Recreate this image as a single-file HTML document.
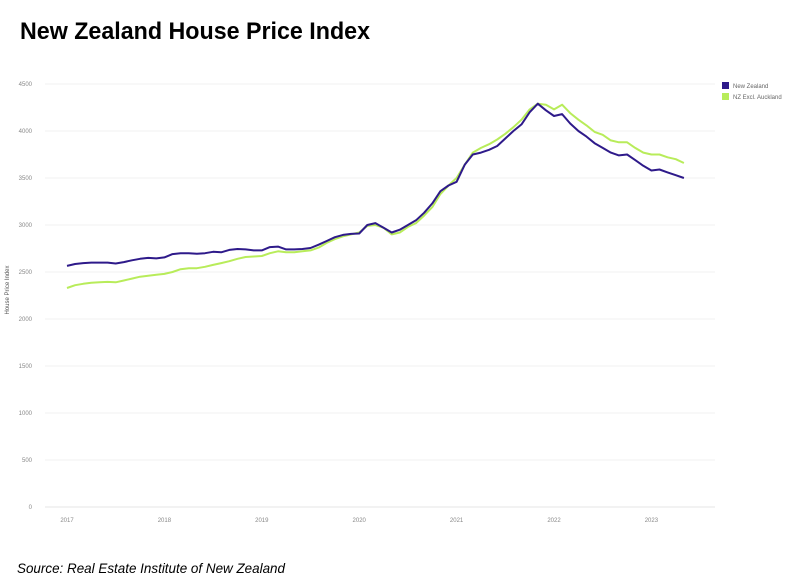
<!DOCTYPE html>
<html><head><meta charset="utf-8"><style>
body{margin:0;background:#fff;}
svg{display:block;font-family:"Liberation Sans",sans-serif;}
</style></head><body>
<svg id="chart" width="792" height="585" viewBox="0 0 792 585">
<text x="20" y="39" font-size="24" font-weight="bold" textLength="350" lengthAdjust="spacingAndGlyphs" fill="#000">New Zealand House Price Index</text>
<text x="17" y="573" font-size="14" font-style="italic" textLength="268" lengthAdjust="spacingAndGlyphs" fill="#000">Source: Real Estate Institute of New Zealand</text>
<text transform="translate(9,290) rotate(-90)" font-size="6" text-anchor="middle" fill="#555">House Price Index</text>
<g id="grid"></g>
<g id="series"></g>
<g>
<rect x="722" y="82" width="7" height="7" fill="#2e1a8a"/>
<text x="733" y="88" font-size="6" fill="#666">New Zealand</text>
<rect x="722" y="93" width="7" height="7" fill="#b8ec5a"/>
<text x="733" y="99" font-size="6" fill="#666">NZ Excl. Auckland</text>
</g>
</svg>
<script>
const yTicks=[0,500,1000,1500,2000,2500,3000,3500,4000,4500];
const xYears=[2017,2018,2019,2020,2021,2022,2023];
const nzValues=[2565,2585,2595,2600,2600,2600,2590,2605,2625,2640,2650,2645,
2655,2690,2700,2700,2695,2700,2715,2710,2735,2745,2740,2730,
2730,2765,2770,2740,2740,2745,2755,2790,2830,2870,2895,2905,
2910,3000,3020,2970,2920,2950,3000,3050,3130,3230,3360,3420,
3460,3640,3750,3770,3800,3840,3920,4000,4070,4200,4290,4220,
4160,4180,4080,4000,3940,3870,3820,3770,3740,3750,3690,3630,
3580,3590,3560,3530,3500];
const exAklValues=[2330,2360,2375,2385,2390,2395,2390,2410,2430,2450,2460,2470,
2480,2500,2530,2540,2540,2555,2575,2595,2615,2640,2660,2665,
2670,2700,2720,2710,2710,2720,2730,2760,2810,2850,2880,2900,
2920,2990,3000,2970,2900,2920,2980,3020,3100,3190,3330,3420,
3500,3640,3770,3820,3860,3910,3970,4040,4120,4230,4290,4280,
4230,4280,4190,4120,4060,3990,3960,3900,3880,3880,3820,3770,
3750,3750,3720,3700,3660];
const NS="http://www.w3.org/2000/svg";
const y=v=>507-v*(423/4500);
const x=m=>67+m*(97.4/12);
const grid=document.getElementById('grid');
yTicks.forEach(t=>{
 const l=document.createElementNS(NS,'line');
 l.setAttribute('x1',45);l.setAttribute('x2',715);
 l.setAttribute('y1',y(t));l.setAttribute('y2',y(t));
 l.setAttribute('stroke',t===0?'#e6e6e6':'#f1f1f1');l.setAttribute('stroke-width',1);
 
 
 grid.appendChild(l);
 const tx=document.createElementNS(NS,'text');
 tx.setAttribute('x',32);tx.setAttribute('y',y(t)+2);
 tx.setAttribute('font-size',6);tx.setAttribute('text-anchor','end');tx.setAttribute('fill','#888');
 tx.textContent=t;
 
 
 grid.appendChild(tx);
});
xYears.forEach((yr,i)=>{
 const tx=document.createElementNS(NS,'text');
 tx.setAttribute('x',x(i*12));tx.setAttribute('y',522);
 tx.setAttribute('font-size',6);tx.setAttribute('text-anchor','middle');tx.setAttribute('fill','#888');
 tx.textContent=yr;
 
 
 grid.appendChild(tx);
});
const ser=document.getElementById('series');
function line(vals,color,name){
 const p=document.createElementNS(NS,'polyline');
 p.setAttribute('points',vals.map((v,i)=>x(i).toFixed(1)+','+y(v).toFixed(1)).join(' '));
 p.setAttribute('fill','none');p.setAttribute('stroke',color);p.setAttribute('stroke-width',2);
 p.setAttribute('stroke-linejoin','round');
 
 
 ser.appendChild(p);
}
line(exAklValues,'#b8ec5a','nz-excl-auckland-line');
line(nzValues,'#2e1a8a','new-zealand-line');
</script>
</body></html>
